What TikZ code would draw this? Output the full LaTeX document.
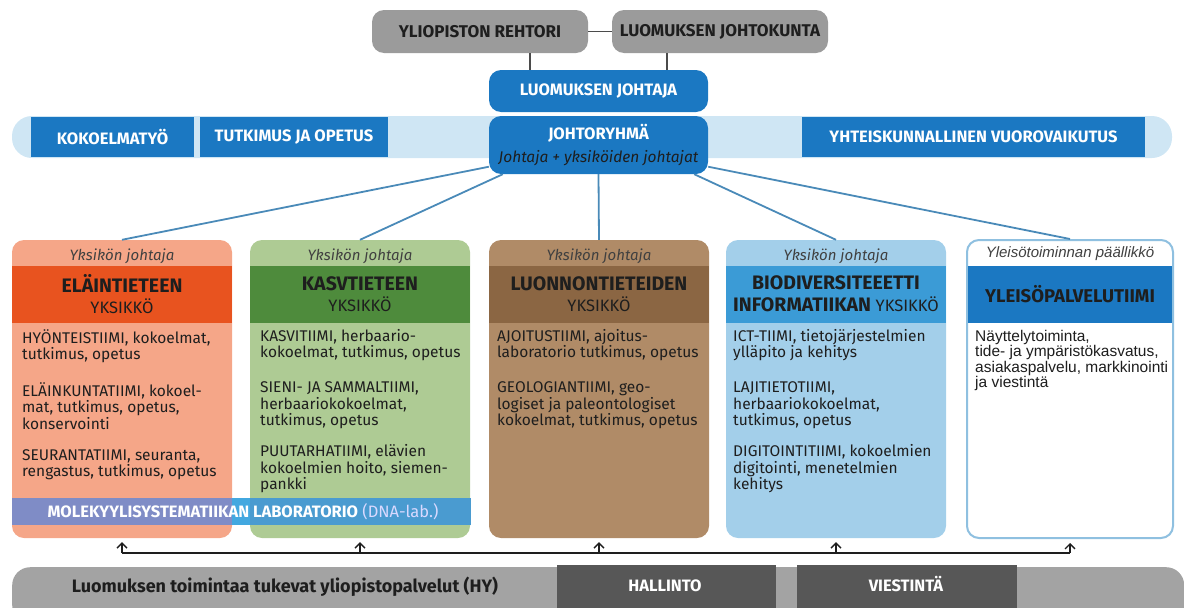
\documentclass[tikz,border=0pt]{standalone}
\usepackage{fontspec}
\setmainfont{Fira Sans}
\newfontfamily\arialfont{Liberation Sans}
\usetikzlibrary{arrows.meta}
\definecolor{topgray}{HTML}{9B9B9B}
\definecolor{luomusblue}{HTML}{1B78C2}
\definecolor{bandblue}{HTML}{CFE6F4}
\definecolor{linkblue}{HTML}{4A8AB8}
\definecolor{elainfill}{HTML}{F5A688}
\definecolor{elainhead}{HTML}{E8531F}
\definecolor{kasvifill}{HTML}{AECB94}
\definecolor{kasvihead}{HTML}{4E8B3C}
\definecolor{luontofill}{HTML}{B08B67}
\definecolor{luontohead}{HTML}{8B6643}
\definecolor{biofill}{HTML}{A3CFEA}
\definecolor{biohead}{HTML}{3B9BD6}
\definecolor{yleisoline}{HTML}{8FC0E0}
\definecolor{dnaleft}{HTML}{7F8CC6}
\definecolor{dnagap}{HTML}{42A8E0}
\definecolor{dnaright}{HTML}{4A9BD0}
\definecolor{bargray}{HTML}{A3A3A3}
\definecolor{bardark}{HTML}{575757}
\definecolor{inktext}{HTML}{1E1E1E}
\tikzset{
  topbox/.style={fill=topgray, rounded corners=12pt, minimum height=43pt, inner sep=0pt,
    text=inktext, font=\bfseries\fontsize{17}{20}\selectfont},
  bluebox/.style={fill=luomusblue, text=white, inner sep=0pt, font=\bfseries\fontsize{16.5}{20}\selectfont},
  column/.style={rounded corners=12pt, minimum width=220pt, minimum height=298pt, inner sep=0pt},
  lead/.style={font=\itshape\fontsize{15}{16}\selectfont, text=inktext!85},
  head/.style={minimum width=220pt, minimum height=57pt, inner sep=0pt, align=center, text=inktext,
    font=\bfseries\fontsize{19.5}{21}\selectfont},
  body/.style={anchor=north west, align=left, inner sep=0pt, text=inktext,
    font=\fontsize{15.5}{16.3}\selectfont},
  linkline/.style={draw=linkblue, line width=1.8pt},
  railarrow/.style={-{Straight Barb[length=5pt, width=10pt]}, line width=1.3pt, draw=inktext},
}
\newcommand{\unitword}{{\mdseries\fontsize{16.5}{18}\selectfont YKSIKKÖ}}

\begin{document}
\begin{tikzpicture}[x=1pt, y=-1pt]
    \useasboundingbox (0,0) rectangle (1184,608);
    % university level
    \node[topbox, minimum width=216pt] (rehtori) at (480,31.5) {YLIOPISTON REHTORI};
    \node[topbox, minimum width=216pt] (johtokunta) at (720,31.5) {LUOMUKSEN JOHTOKUNTA};
    \draw[line width=1.5pt, inktext!80] (rehtori) -- (johtokunta);
    % light band behind the working areas
    \fill[bandblue, rounded corners=20pt] (12,116) rectangle (1172,158);
    \node[bluebox, minimum width=163pt, minimum height=40pt] (kokoelma) at (112.5,137) {KOKOELMATYÖ};
    \node[bluebox, minimum width=188pt, minimum height=40pt] (tutkimus) at (294,137) {TUTKIMUS JA OPETUS};
    \node[bluebox, minimum width=343pt, minimum height=40pt] (yhteis) at (973.5,137) {YHTEISKUNNALLINEN VUOROVAIKUTUS};
    % director and management group
    \node[bluebox, rounded corners=12pt, minimum width=219pt, minimum height=42pt] (johtaja) at (598.5,91) {LUOMUKSEN JOHTAJA};
    \node[bluebox, rounded corners=12pt, minimum width=219pt, minimum height=58pt, align=center] (johto) at (598.5,145)
        {JOHTORYHMÄ\\[3pt]{\mdseries\itshape\fontsize{15.5}{18}\selectfont\color{inktext}Johtaja + yksiköiden johtajat}};
    \draw[line width=1.5pt, inktext!80] (rehtori.south -| 530,0) -- (johtaja.north -| 530,0);
    \draw[line width=1.5pt, inktext!80] (johtokunta.south -| 667,0) -- (johtaja.north -| 667,0);
    % units
    \node[column, fill=elainfill] (elain) at (122,389) {};
    \node[column, fill=kasvifill] (kasvi) at (360,389) {};
    \node[column, fill=luontofill] (luonto) at (599,389) {};
    \node[column, fill=biofill] (biodiv) at (836,389) {};
    \node[column, fill=white, draw=yleisoline, line width=2pt, minimum width=206pt] (yleiso) at (1070,389) {};
    % connectors from the management group
    \draw[linkline] (johto) -- (elain.north);
    \draw[linkline] ([xshift=14pt]johto.south west) -- (kasvi.north);
    \draw[linkline] (johto.south) -- (luonto.north);
    \draw[linkline] ([xshift=-14pt]johto.south east) -- (biodiv.north);
    \draw[linkline] (johto) -- (yleiso.north);
    % unit leaders
    \node[lead] (elainlead) at ([yshift=-16pt]elain.north) {Yksikön johtaja};
    \node[lead] (kasvilead) at ([yshift=-16pt]kasvi.north) {Yksikön johtaja};
    \node[lead] (luontolead) at ([yshift=-16pt]luonto.north) {Yksikön johtaja};
    \node[lead] (biolead) at ([yshift=-16pt]biodiv.north) {Yksikön johtaja};
    \node[lead, font=\arialfont\itshape\fontsize{15}{16}\selectfont] (yleisolead) at ([yshift=-15pt]yleiso.north) {Yleisötoiminnan päällikkö};
    % unit headers
    \node[head, fill=elainhead] (elainhead) at (122,294) {ELÄINTIETEEN\\[0pt]\unitword};
    \node[head, fill=kasvihead] (kasvihead) at (360,294) {KASVTIETEEN\\[0pt]\unitword};
    \node[head, fill=luontohead] (luontohead) at (599,294) {LUONNONTIETEIDEN\\[0pt]\unitword};
    \node[head, fill=biohead] (biohead) at (836,294) {BIODIVERSITEEETTI\\[1pt]INFORMATIIKAN \unitword};
    \node[head, fill=luomusblue, minimum width=204pt, font=\bfseries\fontsize{18.5}{21}\selectfont] (yleisohead) at (1070,294) {YLEISÖPALVELUTIIMI};
    % unit teams
    \node[body] (elainteams) at (22,329) {HYÖNTEISTIIMI, kokoelmat,\\tutkimus, opetus\\[19pt]
        ELÄINKUNTATIIMI, kokoel-\\mat, tutkimus, opetus,\\konservointi\\[15pt]
        SEURANTATIIMI, seuranta,\\rengastus, tutkimus, opetus};
    \node[body] (kasviteams) at (260,329) {KASVITIIMI, herbaario-\\kokoelmat, tutkimus, opetus\\[19pt]
        SIENI- JA SAMMALTIIMI,\\herbaariokokoelmat,\\tutkimus, opetus\\[15pt]
        PUUTARHATIIMI, elävien\\kokoelmien hoito, siemen-\\pankki};
    \node[body] (luontoteams) at (497,329) {AJOITUSTIIMI, ajoitus-\\laboratorio tutkimus, opetus\\[19pt]
        GEOLOGIANTIIMI, geo-\\logiset ja paleontologiset\\kokoelmat, tutkimus, opetus};
    \node[body] (bioteams) at (733,329) {ICT-TIIMI, tietojärjestelmien\\ylläpito ja kehitys\\[19pt]
        LAJITIETOTIIMI,\\herbaariokokoelmat,\\tutkimus, opetus\\[15pt]
        DIGITOINTITIIMI, kokoelmien\\digitointi, menetelmien\\kehitys};
    \node[body, font=\arialfont\fontsize{15.5}{15.5}\selectfont] (yleisoteams) at (975,330) {Näyttelytoiminta,\\tide- ja ympäristökasvatus,\\asiakaspalvelu, markkinointi\\ja viestintä};
    % molecular lab band across two units
    \fill[dnaleft] (12,498) rectangle (232,525);
    \fill[dnagap] (232,498) rectangle (250,525);
    \fill[dnaright] (250,498) rectangle (471,525);
    \node[text=white, font=\fontsize{16.5}{18}\selectfont] (dnalab) at (243,511.5)
        {\textbf{MOLEKYYLISYSTEMATIIKAN LABORATORIO} {\color{white!85!blue}(DNA-lab.)}};
    % support services rail
    \coordinate (rail) at (0,553);
    \draw[line width=1.2pt, inktext] (elain.south |- rail) -- (yleiso.south |- rail);
    \draw[railarrow] (elain.south |- rail) -- ([yshift=-4pt]elain.south);
    \draw[railarrow] (kasvi.south |- rail) -- ([yshift=-4pt]kasvi.south);
    \draw[railarrow] (luonto.south |- rail) -- ([yshift=-4pt]luonto.south);
    \draw[railarrow] (biodiv.south |- rail) -- ([yshift=-4pt]biodiv.south);
    \draw[railarrow] (yleiso.south |- rail) -- ([yshift=-4pt]yleiso.south);
    % support services bar
    \node[fill=bargray, rounded corners=18pt, minimum width=1172pt, minimum height=56pt, anchor=north west, inner sep=0pt] (tuki) at (12,567) {};
    \node[text=inktext, font=\bfseries\fontsize{18}{20}\selectfont] (tukiteksti) at (285,587) {Luomuksen toimintaa tukevat yliopistopalvelut (HY)};
    \node[fill=bardark, text=white, minimum width=219pt, minimum height=48pt, font=\bfseries\fontsize{16.5}{18}\selectfont] (hallinto) at (666.5,589) {};
    \node[fill=bardark, text=white, minimum width=220pt, minimum height=48pt, font=\bfseries\fontsize{16.5}{18}\selectfont] (viestinta) at (907,589) {};
    \node[text=white, font=\bfseries\fontsize{16.5}{18}\selectfont] (hallintoteksti) at (665,586) {HALLINTO};
    \node[text=white, font=\bfseries\fontsize{16.5}{18}\selectfont] (viestintateksti) at (906,584) {VIESTINTÄ};
\end{tikzpicture}
\end{document}
